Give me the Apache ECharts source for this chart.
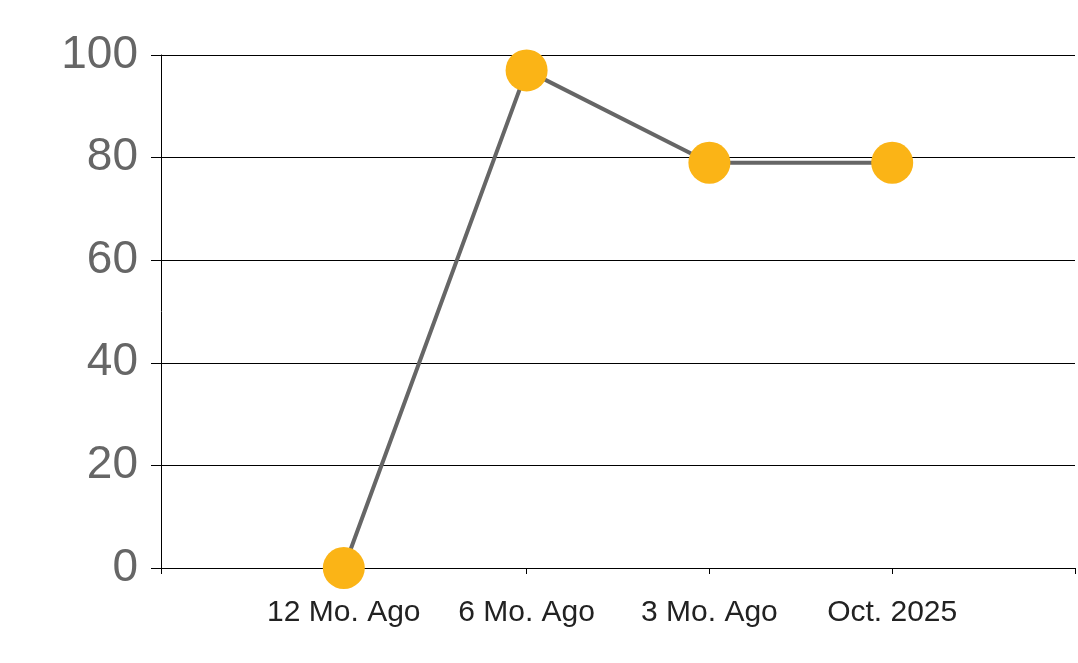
<!DOCTYPE html>
<html><head><meta charset="utf-8">
<script src="https://cdn.jsdelivr.net/npm/echarts@6/dist/echarts.min.js"></script>
<style>html,body{margin:0;padding:0;background:#fff}#c{width:1078px;height:663px}</style>
</head><body><div id="c"></div>
<script>
const categories = ["", "12 Mo. Ago", "6 Mo. Ago", "3 Mo. Ago", "Oct. 2025", ""];
const values = [null, 0, 97, 79, 79, null];
const yTicks = { min: 0, max: 100, interval: 20 };

const chart = echarts.init(document.getElementById('c'), null, { renderer: 'canvas' });
chart.setOption({
  animation: false,
  grid: { left: 161, right: 3, top: 55, bottom: 95 },
  xAxis: {
    type: 'category', data: categories, boundaryGap: false,
    axisLine: { lineStyle: { color: '#000', width: 1 } },
    axisTick: { show: true, interval: 0, length: 6, lineStyle: { color: '#000' } },
    axisLabel: { interval: 0, color: '#222', fontSize: 30, fontFamily: 'Liberation Sans, Arial, sans-serif', margin: 30 },
    splitLine: { show: false }
  },
  yAxis: {
    type: 'value', min: yTicks.min, max: yTicks.max, interval: yTicks.interval,
    axisLine: { show: true, lineStyle: { color: '#000', width: 1 } },
    axisTick: { show: true, length: 10, lineStyle: { color: '#000' } },
    axisLabel: { color: '#666', fontSize: 46, fontFamily: 'Liberation Sans, Arial, sans-serif', margin: 23 },
    splitLine: { show: true, lineStyle: { color: '#000', width: 1 } }
  },
  series: [{
    type: 'line', data: values, connectNulls: false,
    lineStyle: { color: '#666', width: 4 },
    symbol: 'circle', symbolSize: 42,
    itemStyle: { color: '#FBB416', borderWidth: 0 },
    z: 3
  }]
});
</script></body></html>
